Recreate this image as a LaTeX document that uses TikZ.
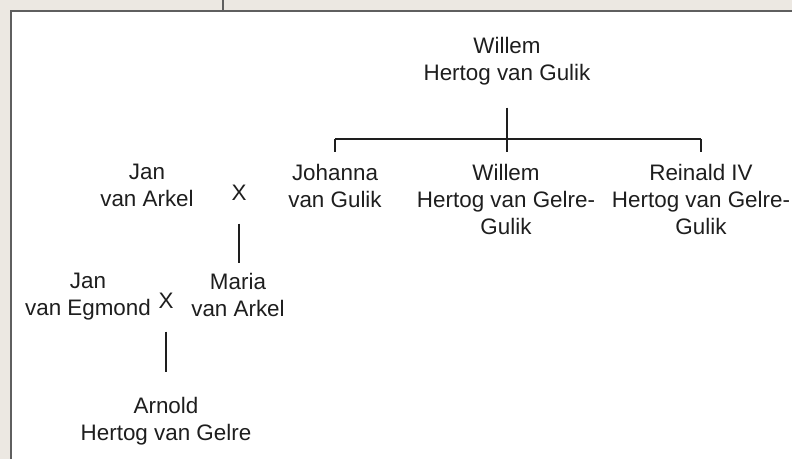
\documentclass[tikz,border=0pt]{standalone}
\usepackage{fontspec}
\setmainfont{Liberation Sans}
\definecolor{panelbeige}{RGB}{236,232,226}
\definecolor{framegray}{RGB}{95,95,95}
\definecolor{inkgray}{RGB}{30,30,30}

\begin{document}
\begin{tikzpicture}[x=0.75pt,y=0.75pt,yscale=-1,xscale=1,
  person/.style={anchor=north,inner sep=0pt,align=center,text=inkgray,font=\fontsize{16.8}{20.4}\selectfont},
  marry/.style={inner sep=0pt,text=inkgray,font=\fontsize{16.8}{20.4}\selectfont},
  link/.style={line width=1.3pt,inkgray}]
\useasboundingbox (0,0) rectangle (792,459);

%Panel and frame
\fill[panelbeige] (0,0) rectangle (792,459);
\fill[white] (11,11) rectangle (792,459);
\draw[framegray,line width=1.5pt] (11,459) -- (11,11) -- (792,11);
\draw[framegray,line width=1.2pt] (223,0) -- (223,11);

% Text Node
\node[person] (willem) at (507,37) {Willem\\Hertog van Gulik};
% Text Node
\node[person] (johanna) at (335,164) {Johanna\\van Gulik};
% Text Node
\node[person] (willemjr) at (506,164) {Willem\\Hertog van Gelre-\\Gulik};
% Text Node
\node[person] (reinald) at (701,164) {Reinald IV\\Hertog van Gelre-\\Gulik};
% Text Node
\node[person] (janarkel) at (147,164) {Jan\\van Arkel};
% Text Node
\node[marry] (xarkel) at (239,193) {X};
% Text Node
\node[person] (maria) at (238,273) {Maria\\van Arkel};
% Text Node
\node[person] (janegmond) at (88,273) {Jan\\van Egmond};
% Text Node
\node[marry] (xegmond) at (166,301) {X};
% Text Node
\node[person] (arnold) at (166,397) {Arnold\\Hertog van Gelre};

\coordinate (fork) at (507,139);

%Straight Lines
\draw[link,shorten <=16.5pt,shorten >=9pt] (willem.south) -- (willem.south |- willemjr.north);
%Straight Lines
\draw[link] (johanna.north |- fork) -- (reinald.north |- fork);
%Straight Lines
\draw[link,shorten >=9pt] (johanna.north |- fork) -- (johanna.north);
%Straight Lines
\draw[link,shorten >=9pt] (reinald.north |- fork) -- (reinald.north);
%Straight Lines
\draw[link,shorten <=17pt,shorten >=7.5pt] (xarkel.south) -- (xarkel.south |- maria.north);
%Straight Lines
\draw[link,shorten <=17pt,shorten >=19pt] (xegmond.south) -- (xegmond.south |- arnold.north);

\end{tikzpicture}
\end{document}
